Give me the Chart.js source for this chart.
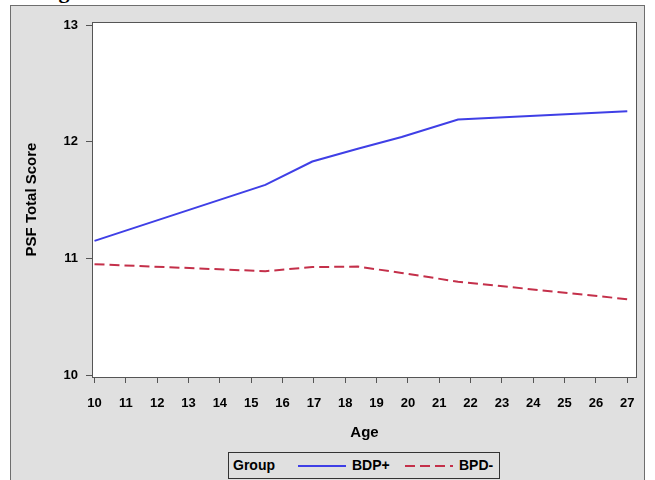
<!DOCTYPE html>
<html>
<head>
<meta charset="utf-8">
<script src="https://cdn.jsdelivr.net/npm/chart.js@4/dist/chart.umd.min.js"></script>
<style>
  html, body { margin: 0; padding: 0; background: #fff; width: 655px; height: 480px; overflow: hidden; }
  #panel {
    position: absolute; left: 10px; top: 5px; width: 635px; height: 490px;
    background: #e0e0e0; border: 1.5px solid #6e6e6e; box-sizing: border-box;
  }
  #cap {
    position: absolute; left: 39px; top: -22px; font: bold 22px "Liberation Serif", "DejaVu Serif", serif;
    color: #000; white-space: nowrap;
  }
  #wrap { position: absolute; left: 0; top: 0; width: 655px; height: 480px; }
  #legend {
    position: absolute; left: 228px; top: 452px; width: 272px; height: 27px; box-sizing: border-box;
    border: 1px solid #333; background: #e0e0e0;
    font: bold 14px "Liberation Sans", Arial, sans-serif; color: #000;
  }
  #legend span, #legend svg { position: absolute; top: 0; line-height: 25px; }
</style>
</head>
<body>
<div id="panel"></div>
<div id="cap">Figure</div>
<div id="wrap"><canvas id="c" width="655" height="480"></canvas></div>
<div id="legend"></div>
<script>
// values
const AGES      = [10, 15.45, 16.95, 18.4, 19.8, 21.6, 27];
const BDP_PLUS  = [11.15, 11.63, 11.83, 11.94, 12.04, 12.19, 12.26];
const BPD_MINUS = [10.95, 10.89, 10.925, 10.93, 10.875, 10.80, 10.65];
const X_TICKS   = [10, 11, 12, 13, 14, 15, 16, 17, 18, 19, 20, 21, 22, 23, 24, 25, 26, 27];
const Y_TICKS   = [10, 11, 12, 13];
const SERIES    = ["BDP+", "BPD-"];

const COLORS = {
  blue: "#3f3fe6",
  red:  "#c4304a",
  axis: "#555555",
  text: "#000000",
};

const FONT = "'Liberation Sans', Arial, sans-serif";
Chart.defaults.font.family = FONT;
Chart.defaults.color = COLORS.text;

const toXY = (ys) => ys.map((y, i) => ({ x: AGES[i], y }));

// white plot area + frame around it
const frame = {
  id: "frame",
  beforeDraw(chart) {
    const { ctx, chartArea: a } = chart;
    ctx.save();
    ctx.fillStyle = "#ffffff";
    ctx.fillRect(a.left, a.top, a.right - a.left, a.bottom - a.top);
    ctx.restore();
  },
  afterDraw(chart) {
    const { ctx, chartArea: a } = chart;
    ctx.save();
    ctx.strokeStyle = COLORS.axis;
    ctx.lineWidth = 1;
    ctx.strokeRect(a.left + 0.5, a.top + 0.5, a.right - a.left - 1, a.bottom - a.top);
    ctx.restore();
  },
};

const chart = new Chart(document.getElementById("c"), {
  type: "line",
  data: {
    datasets: [
      {
        label: SERIES[0],
        data: toXY(BDP_PLUS),
        borderColor: COLORS.blue,
        borderWidth: 2,
        pointRadius: 0,
        tension: 0,
      },
      {
        label: SERIES[1],
        data: toXY(BPD_MINUS),
        borderColor: COLORS.red,
        borderWidth: 2,
        borderDash: [10, 5],
        pointRadius: 0,
        tension: 0,
      },
    ],
  },
  options: {
    responsive: false,
    animation: false,
    layout: { padding: { left: 0, top: 22, right: 18, bottom: 35 } },
    plugins: { legend: { display: false }, tooltip: { enabled: false } },
    scales: {
      x: {
        type: "linear",
        min: 9.92,
        max: 27.31,
        afterBuildTicks: (s) => { s.ticks = X_TICKS.map((v) => ({ value: v })); },
        afterFit: (s) => { s.height = 68; },
        grid: { drawOnChartArea: false, drawTicks: true, tickLength: 6, color: COLORS.axis },
        border: { display: false },
        ticks: { autoSkip: false, maxRotation: 0, padding: 13, font: { size: 13, weight: "bold" } },
        title: { display: true, text: "Age", font: { size: 15, weight: "bold" }, padding: { top: 0, bottom: 3 } },
      },
      y: {
        min: 9.983,
        max: 13.026,
        afterBuildTicks: (s) => { s.ticks = Y_TICKS.map((v) => ({ value: v })); },
        afterFit: (s) => { s.width = 92; },
        grid: { drawOnChartArea: false, drawTicks: true, tickLength: 6, color: COLORS.axis },
        border: { display: false },
        ticks: { padding: 8, font: { size: 13, weight: "bold" } },
        title: { display: true, text: "PSF Total Score", font: { size: 15, weight: "bold" }, padding: { top: 23, bottom: 0 } },
      },
    },
  },
  plugins: [frame],
});

// legend: "Group" + line samples taken from the datasets
const legend = document.getElementById("legend");
legend.innerHTML =
  `<span style="left:4px">Group</span>` +
  chart.data.datasets.map((ds, i) => {
    const x0 = i === 0 ? 68 : 175;
    const dash = ds.borderDash ? `stroke-dasharray="${ds.borderDash.join(",")}"` : "";
    return `<svg style="left:${x0}px" width="50" height="25"><line x1="1" y1="13" x2="49" y2="13" stroke="${ds.borderColor}" stroke-width="2" ${dash}/></svg>` +
      `<span style="left:${x0 + 55}px">${ds.label}</span>`;
  }).join("");
</script>
</body>
</html>
